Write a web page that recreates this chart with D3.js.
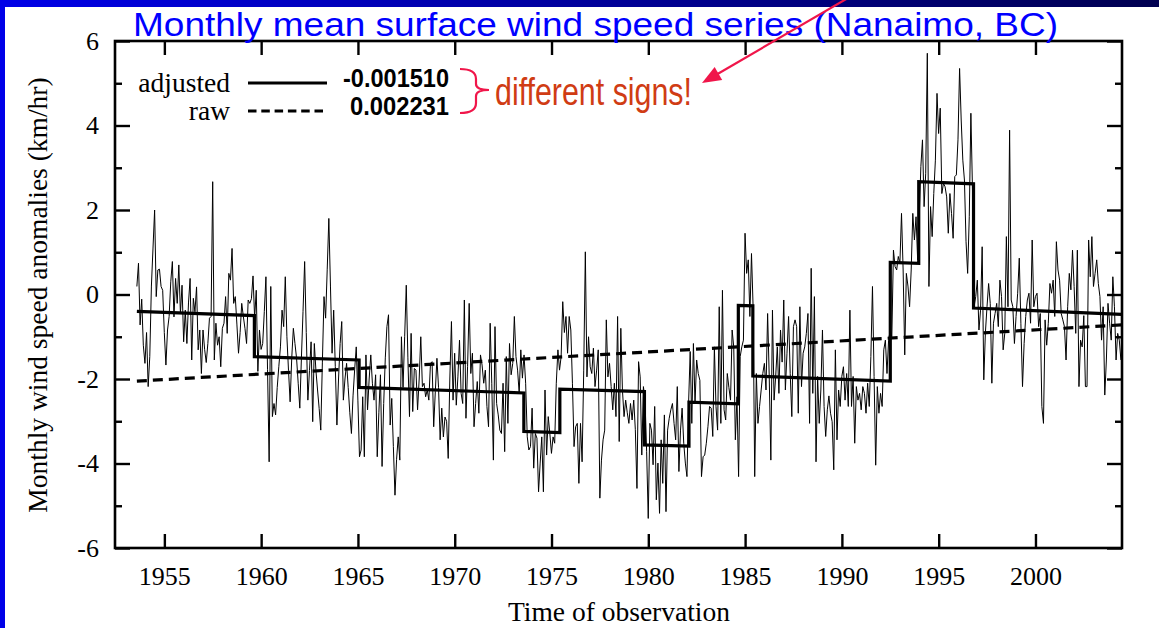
<!DOCTYPE html>
<html>
<head>
<meta charset="utf-8">
<script src="https://cdn.jsdelivr.net/npm/d3@7"></script>
<style>
  html, body { margin: 0; padding: 0; background: #fff; overflow: hidden; }
  svg { display: block; }
</style>
</head>
<body>
<svg id="chart" width="1159" height="628"></svg>
<script>
// ---- data -------------------------------------------------------------
// Monthly mean surface wind speed anomalies (km/hr), Nanaimo BC,
// one value per month starting at rawStart.
const rawStart = 1953.58;
const monthlyAnomaly = [
  0.19, 0.74, -0.72, -0.11, -1.2, -1.63, -0.9, -2.18, -1.47, 0.2, 1.1, 2.0,
  -0.05, 0.58, 0.6, 0.19, 0.1, -0.9, -1.67, -0.84, -0.52, 0.3, 0.78, -0.53,
  0.38, -0.21, 0.70, -0.45, 0.22, -1.12, -0.37, -1.16, -0.2, 0.38, -1.55, -0.09,
  -0.41, 0.18, -1.31, -0.84, -1.87, -0.84, -1.3, -1.61, -1.16, -0.56, -0.52, 2.67,
  -1.55, -0.68, -1.2, -1.0, -1.71, -0.8, -0.68, -0.05, -0.92, 0.5, 0.34, 1.09,
  -0.21, -0.05, -0.7, -1.39, -0.9, -0.21, -0.52, -0.8, -1.16, -0.13, -0.21, -0.1,
  0.44, -0.56, 0.1, -1.82, -0.84, -1.3, -1.16, -0.4, 0.42, -1.78, -3.96, 0.19,
  -2.89, -2.58, -2.85, -2.2, -1.7, -1.24, -0.37, -0.76, 0.42, -1.0, -1.8, -2.54,
  -1.5, -0.8, -1.16, -1.51, -2.1, -2.69, -1.5, -0.4, 0.78, -0.9, -2.5, -1.8,
  -1.12, -3.01, -1.16, -1.8, -2.26, -2.7, -3.21, -1.6, -0.05, -0.56, 0.6, 1.8,
  0.2, -1.39, -0.37, -1.7, -3.09, -2.0, -1.16, -0.64, -2.5, -2.0, -1.63, -2.2,
  -2.8, -3.29, -2.4, -1.78, -1.24, -2.5, -3.84, -3.68, -2.42, -3.84, -1.43, -2.73,
  -2.0, -1.43, -2.1, -2.5, -1.9, -3.84, -2.8, -1.9, -4.07, -2.58, -1.5, -0.76,
  -0.48, -3.09, -2.46, -3.6, -4.75, -3.9, -3.37,
  -3.92, -1.0, -2.2, -1.0, 0.22, -1.5, -2.89, -0.92, -2.77, -1.75, -1.79, -2.73,
  -2.0, -1.0, -2.18, -2.1, -2.42, -2.26, -2.5, -1.63, -1.59, -3.13, -2.3, -1.51,
  -2.2, -3.44, -2.69, -3.37, -2.9, -3.0, -3.88, -2.0, -0.64, -2.5, -1.39, -2.62,
  -1.95, -1.08, -2.34, -2.58, -0.13, -2.93, -1.71, -0.21, -1.87, -1.39, -3.13, -2.58,
  -2.06, -2.81, -1.43, -1.67, -2.1, -1.79, -2.65, -3.13, -0.68, -2.1, -3.92, -0.76,
  -2.58, -2.85, -3.21, -3.29, -2.1, -3.72, -1.47, -3.05, -1.16, -1.9, -1.63, -0.52,
  -1.47, -1.79, -2.34, -1.31, -1.98, -1.43, -2.1, -3.37, -3.68, -3.6, -2.69, -4.11,
  -3.29, -3.4, -4.67, -3.99, -3.37, -4.67, -2.26, -3.8, -2.89, -3.29, -3.76, -3.37,
  -3.52, -2.1, -1.31, -1.79, -1.47, -0.17, -0.9, -0.52, -1.39, -0.52, -0.84, -2.1,
  -3.6, -3.13, -3.05, -4.47, -3.05, -3.96, -1.79, 1.01, -1.95, -1.0, -1.71, -1.87,
  -1.27, -2.18, -1.79, -1.31, -4.82, -3.92, -3.44, -3.21, -0.6, -1.95, -1.63, -2.18,
  -2.73, -2.1, -2.89, -0.52, -3.48, -0.8, -2.26, -2.89, -2.5, -2.8, -3.05, -2.58,
  -2.97, -2.5, -3.2, -4.59, -1.59, -1.95, -3.8, -2.18, -2.5, -3.72, -5.3, -3.05,
  -3.21, -4.03, -2.65, -4.86, -3.99, -5.18, -3.44, -4.47, -2.85, -5.14, -3.21, -2.93,
  -2.73, -2.58, -3.05, -3.44, -2.18, -4.19, -3.21, -2.69, -3.52, -3.99, -4.31, -2.58,
  -1.35, -3.05, -1.16, -2.58, -1.55,
  -1.87, -2.03, -4.31, -3.84, -3.8, -3.52, -3.13, -2.65, -2.69, -3.36, -1.24, -2.65,
  -3.21, -0.29, -3.05, 0.1, -2.73, -2.97, -1.87, -2.2, -2.5, -0.84, -1.24, -3.44,
  -2.42, -4.31, -1.47, -1.24, -1.08, 1.45, 0.5, 0.82, -0.52, 0.97, -0.29, -4.31,
  -1.87, -3.05, -2.65, -2.26, -1.87, -1.63, -2.26, -0.45, -1.94, -3.92, -0.37, -2.5,
  -1.94, -1.24, -2.34, -0.84, -1.6, -0.13, -2.26, -1.39, -0.52, -1.87, -2.89, -0.76,
  -0.6, -0.76, -2.81, -0.29, -2.18, -1.39, -1.24, -0.92, -0.45, -3.05, 0.62, -2.34,
  -0.05, -3.96, -1.94, -3.05, -2.26, -0.84, -2.65, -3.36, -2.73, -2.4, -2.81, -3.01,
  -4.15, -1.31, -3.44, -2.26, -2.65, -1.94, -1.71, -2.5, -1.87, -2.65, -0.37, -2.65,
  -1.94, -3.52, -2.18, -2.5, -2.34, -2.73, -2.18, -2.34, -2.81, -2.1, -2.65, -1.47,
  0.19, -1.94, -4.04, -2.18, -2.81, -2.34, -2.65, -1.31, -1.08, -1.87, -1.08, -0.84,
  -1.0, 1.05, 0.66, 0.58, 0.9, 0.74, 1.92, 0.58, -1.43, 0.5, 0.2, -0.29,
  0.58, 1.92, 1.29, 1.84, 0.82, 1.84, 3.03, 3.66, 2.08, 2.87, 5.71, 0.19,
  2.08, 1.37, 2.39, 3.18, 4.76, 3.81, 4.41, 2.39, 2.63, 2.55, 2.31, 1.45,
  2.39, 1.92, 1.33, 2.79, 2.83, 3.66, 5.35, 4.13, 3.18, 2.71, 1.25, 0.5,
  1.84, 4.29, 2.47, -0.29, -0.05, 0.34, -0.84, -0.37, 1.13, -2.02, -0.9, -0.29,
  0.26, -0.21, -2.1, -0.68, -0.45, -0.21, -0.76, 0.34, -0.05, -1.31, -0.92, 1.37,
  -0.29, 3.89, -0.13, -0.29, -1.16, -0.52, 0.03, 0.86, -0.68, -2.18, -1.16, -0.52,
  -0.13, 0.03, -0.68, 1.29, -0.29, -0.05, 0.03, -0.76, -0.45, -2.65, -3.05, -0.6,
  -1.2, -0.68, 0.26, 0.03, 0.34, -0.52, 1.25, 0.58, 0.34, -0.45, -0.6, -0.76,
  -1.55, -0.29, 0.5, 0.11, 1.05, 0.19, -0.92, 1.05, -2.18, -1.08, -1.24, -0.5,
  -2.18, -2.18, 1.29, 0.42, 1.37, 0.19, 0.5, 0.82, 0.26, -0.05, -1.08, -0.29,
  -2.38, -1.55, -0.21, -0.68, -1.08, 0.42, -0.29, -1.55, -0.92, -1.08, -1.55
];

// Homogenized (adjusted) series: piecewise segments between breakpoints,
// each carrying the fitted trend (value at segment start and end).
const stepBreaks      = [1953.58, 1959.65, 1965.06, 1973.57, 1975.43, 1979.8, 1982.1, 1984.65, 1985.4, 1992.5, 1993.97, 1996.8, 2004.45];
const stepStartLevel  = [-0.40, -1.47, -2.20, -3.24, -2.24, -3.56, -2.55, -0.26, -1.93, 0.76, 2.67, -0.32];
const stepEndLevel    = [-0.50, -1.55, -2.33, -3.27, -2.30, -3.59, -2.59, -0.27, -2.05, 0.74, 2.62, -0.47];

// Linear trend of the raw series
const trendYears  = [1953.58, 2004.45];
const trendValues = [-2.05, -0.72];

// Axis ticks and legend text
const xTickYears   = [1955, 1960, 1965, 1970, 1975, 1980, 1985, 1990, 1995, 2000];
const yMajorTicks  = [-6, -4, -2, 0, 2, 4, 6];
const yMinorTicks  = [-5, -3, -1, 1, 3, 5];
const legendNames  = ["adjusted", "raw"];
const legendTrends = ["-0.001510", "0.002231"];

// ---- layout -----------------------------------------------------------
const W = 1159, H = 628;
const plot = { left: 115, top: 41, right: 1122, bottom: 548 };
const serif = "'Liberation Serif', 'Times New Roman', serif";
const sans = "'Liberation Sans', Arial, sans-serif";
const red = "#f0164a";

const svg = d3.select("#chart");

// slide frame: gradient band on top, blue strip on the left
const defs = svg.append("defs");
const grad = defs.append("linearGradient").attr("id", "band")
  .attr("x1", "0%").attr("x2", "100%").attr("y1", "0%").attr("y2", "0%");
grad.append("stop").attr("offset", "0%").attr("stop-color", "#0000e8");
grad.append("stop").attr("offset", "100%").attr("stop-color", "#000050");

svg.append("rect").attr("width", W).attr("height", H).attr("fill", "#fff");
svg.append("rect").attr("x", 0).attr("y", 0).attr("width", W).attr("height", 7).attr("fill", "url(#band)");
svg.append("rect").attr("x", 0).attr("y", 0).attr("width", 5).attr("height", H).attr("fill", "#0000e8");

const x = d3.scaleLinear().domain([1952.45, 2004.47]).range([plot.left, plot.right]);
const y = d3.scaleLinear().domain([-6, 6]).range([plot.bottom, plot.top]);

// ---- axes -------------------------------------------------------------
const plainNumber = d => String(d);   // keeps an ASCII hyphen for negatives

function styleAxis(g) {
  g.select(".domain").remove();
  g.selectAll(".tick line").attr("stroke", "#000").attr("stroke-width", 2.4);
  g.selectAll(".tick text").attr("fill", "#000").attr("font-family", serif).attr("font-size", 26);
}

svg.append("g").attr("transform", `translate(0,${plot.bottom})`)
  .call(d3.axisBottom(x).tickValues(xTickYears).tickFormat(plainNumber)
    .tickSize(-14).tickPadding(19))
  .call(styleAxis);
svg.append("g").attr("transform", `translate(0,${plot.top})`)
  .call(d3.axisTop(x).tickValues(xTickYears).tickFormat("").tickSize(-14))
  .call(styleAxis);

svg.append("g").attr("transform", `translate(${plot.left},0)`)
  .call(d3.axisLeft(y).tickValues(yMajorTicks).tickFormat(plainNumber)
    .tickSize(-15).tickPadding(16))
  .call(styleAxis);
svg.append("g").attr("transform", `translate(${plot.left},0)`)
  .call(d3.axisLeft(y).tickValues(yMinorTicks).tickFormat("").tickSize(-7))
  .call(styleAxis);
svg.append("g").attr("transform", `translate(${plot.right},0)`)
  .call(d3.axisRight(y).tickValues(yMajorTicks).tickFormat("").tickSize(-15))
  .call(styleAxis);
svg.append("g").attr("transform", `translate(${plot.right},0)`)
  .call(d3.axisRight(y).tickValues(yMinorTicks).tickFormat("").tickSize(-7))
  .call(styleAxis);

// ---- series -----------------------------------------------------------
const rawLine = d3.line()
  .x((d, i) => x(rawStart + i / 12))
  .y(d => y(d));
svg.append("path").datum(monthlyAnomaly)
  .attr("d", rawLine)
  .attr("fill", "none").attr("stroke", "#000").attr("stroke-width", 1)
  .attr("stroke-linejoin", "miter");

const adjustedPoints = [];
stepStartLevel.forEach((v, k) => {
  adjustedPoints.push([stepBreaks[k], v]);
  adjustedPoints.push([stepBreaks[k + 1], stepEndLevel[k]]);
});
const ptLine = d3.line().x(d => x(d[0])).y(d => y(d[1]));
svg.append("path").datum(adjustedPoints)
  .attr("d", ptLine)
  .attr("fill", "none").attr("stroke", "#000").attr("stroke-width", 3.2)
  .attr("stroke-linejoin", "miter");

svg.append("path").datum(trendYears.map((t, i) => [t, trendValues[i]]))
  .attr("d", ptLine)
  .attr("fill", "none").attr("stroke", "#000").attr("stroke-width", 3.2)
  .attr("stroke-dasharray", "10,6");

// plot frame
svg.append("rect")
  .attr("x", plot.left).attr("y", plot.top)
  .attr("width", plot.right - plot.left).attr("height", plot.bottom - plot.top)
  .attr("fill", "none").attr("stroke", "#000").attr("stroke-width", 2.6);

// ---- axis titles ------------------------------------------------------
svg.append("text")
  .attr("x", 619).attr("y", 621)
  .attr("text-anchor", "middle")
  .attr("font-family", serif).attr("font-size", 27.5)
  .text("Time of observation");

svg.append("text")
  .attr("transform", "translate(47,295) rotate(-90)")
  .attr("text-anchor", "middle")
  .attr("font-family", serif).attr("font-size", 27.5)
  .text("Monthly wind speed anomalies (km/hr)");

// ---- legend -----------------------------------------------------------
const legendY = [83, 111];
legendNames.forEach((name, i) => {
  svg.append("text")
    .attr("x", 230).attr("y", legendY[i] + 9)
    .attr("text-anchor", "end")
    .attr("font-family", serif).attr("font-size", 27.5)
    .text(name);
  svg.append("line")
    .attr("x1", 248).attr("x2", 327).attr("y1", legendY[i]).attr("y2", legendY[i])
    .attr("stroke", "#000").attr("stroke-width", 3.2)
    .attr("stroke-dasharray", i === 1 ? "8.5,4.8" : null);
});
const trendTextX = [343, 350];
legendTrends.forEach((s, i) => {
  svg.append("text")
    .attr("x", trendTextX[i]).attr("y", legendY[i] + 4)
    .attr("font-family", sans).attr("font-weight", "bold").attr("font-size", 25)
    .attr("textLength", 449 - trendTextX[i]).attr("lengthAdjust", "spacingAndGlyphs")
    .text(s);
});

// brace grouping the two trend values
svg.append("path")
  .attr("d", "M460,69 Q476,69 476,79 L476,84 Q476,90 489,90 Q476,90 476,96 L476,103 Q476,113 460,113")
  .attr("fill", "none").attr("stroke", red).attr("stroke-width", 2.2);

svg.append("text")
  .attr("x", 495).attr("y", 105)
  .attr("font-family", "'Liberation Sans Narrow', 'Liberation Sans', Arial, sans-serif")
  .attr("font-size", 38).attr("fill", "#d03c14")
  .attr("textLength", 197).attr("lengthAdjust", "spacingAndGlyphs")
  .text("different signs!");

// ---- title ------------------------------------------------------------
svg.append("text")
  .attr("x", 133).attr("y", 36)
  .attr("font-family", sans).attr("font-size", 33).attr("fill", "#0000ff")
  .attr("textLength", 925).attr("lengthAdjust", "spacingAndGlyphs")
  .text("Monthly mean surface wind speed series (Nanaimo, BC)");

// ---- pointer arrow toward the annotation ------------------------------
const tail = [848, -2], tip = [702, 83];
const dx = tip[0] - tail[0], dy = tip[1] - tail[1];
const len = Math.hypot(dx, dy), ux = dx / len, uy = dy / len;
const headLen = 19, headHalf = 7.5;
const base = [tip[0] - ux * headLen, tip[1] - uy * headLen];
svg.append("line")
  .attr("x1", tail[0]).attr("y1", tail[1]).attr("x2", base[0] + ux * 2).attr("y2", base[1] + uy * 2)
  .attr("stroke", red).attr("stroke-width", 2.2);
svg.append("path")
  .attr("d", `M${tip[0]},${tip[1]} L${base[0] - uy * headHalf},${base[1] + ux * headHalf} L${base[0] + uy * headHalf},${base[1] - ux * headHalf} Z`)
  .attr("fill", red);
</script>
</body>
</html>
